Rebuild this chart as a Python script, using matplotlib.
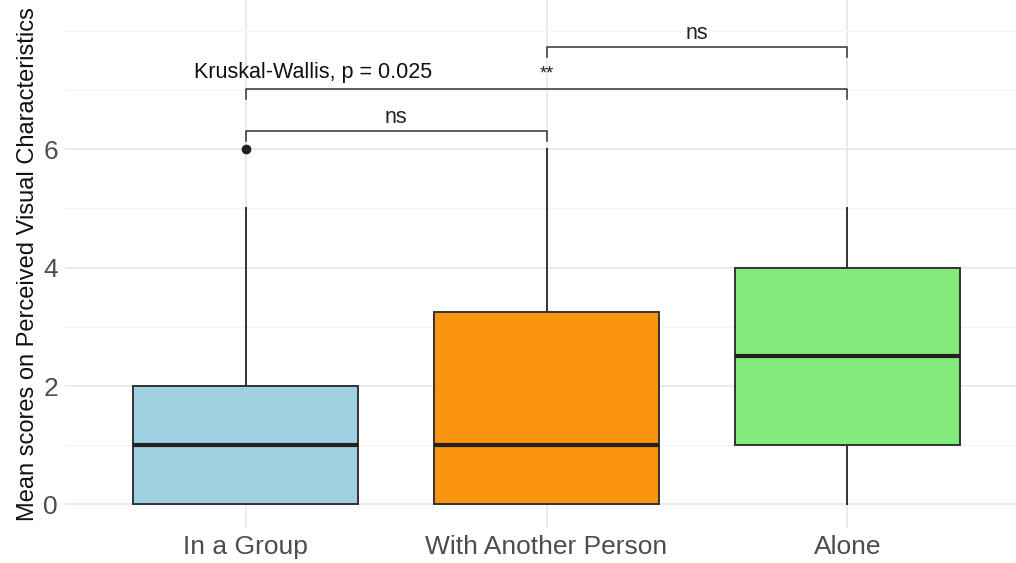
import numpy as np
import matplotlib.pyplot as plt

plt.rcParams['font.family'] = ['Liberation Sans', 'DejaVu Sans']

# box statistics
groups = ["In a Group", "With Another Person", "Alone"]
q1 = [0, 0, 1]
med = [1, 1, 2.5]
q3 = [2, 3.25, 4]
whislo = [0, 0, 0]
whishi = [5, 6, 5]
outliers = [[6], [], []]
colors = ["#9ED0E0", "#FB940E", "#82EB7C"]

# comparison brackets (x1, x2, height, label)
comparisons = [(1, 2, 6.30, "ns"), (1, 3, 7.01, "**"), (2, 3, 7.72, "ns")]
kw_text = "Kruskal-Wallis, p = 0.025"

fig = plt.figure(figsize=(10.16, 5.63), dpi=100)
ax = fig.add_axes([0.064, 0.062, 0.936, 0.938])

stats = []
for i in range(len(groups)):
    stats.append(dict(q1=q1[i], med=med[i], q3=q3[i], whislo=whislo[i],
                      whishi=whishi[i], fliers=outliers[i], label=groups[i]))

pos = np.arange(1, len(groups) + 1)
bp = ax.bxp(stats, positions=pos, widths=0.75, patch_artist=True,
            showcaps=False,
            boxprops=dict(edgecolor="#333333", linewidth=1.4),
            whiskerprops=dict(color="#333333", linewidth=1.4),
            medianprops=dict(color="#222222", linewidth=3),
            flierprops=dict(marker="o", markerfacecolor="#222222",
                            markeredgecolor="#222222", markersize=6))
for patch, c in zip(bp["boxes"], colors):
    patch.set_facecolor(c)
    patch.set_zorder(3)
for k in ["whiskers", "medians", "fliers"]:
    for a in bp[k]:
        a.set_zorder(4)

# brackets
tip = 0.17
for x1, x2, h, lab in comparisons:
    ax.plot([x1, x1, x2, x2], [h - tip, h, h, h - tip], color="#333333",
            linewidth=1.1, zorder=5)
    if lab == "**":
        ax.text((x1 + x2) / 2, h + 0.12, lab, ha="center", va="bottom",
                fontsize=13, color="#222222")
    else:
        ax.text((x1 + x2) / 2, h + 0.05, lab, ha="center", va="bottom",
                fontsize=15.5, color="#222222")
ax.text(0.83, 7.30, kw_text, ha="left", va="center", fontsize=15.5,
        color="#111111")

ax.set_xlim(0.4, 3.56)
ax.set_ylim(-0.4, 8.52)
ax.set_yticks([0, 2, 4, 6])
ax.set_yticks([1, 3, 5, 7, 8], minor=True)
ax.set_xticks(pos)
ax.set_xticklabels(groups)
ax.tick_params(axis="both", length=0, labelsize=19, colors="#4D4D4D")
ax.tick_params(axis="x", pad=5)
ax.tick_params(axis="y", pad=5)
ax.tick_params(axis="y", which="minor", length=0)
ax.grid(True, which="major", color="#E6E6E6", linewidth=1.2, zorder=0)
ax.grid(True, which="minor", axis="y", color="#F4F4F4", linewidth=0.8, zorder=0)
ax.set_axisbelow(True)
for s in ax.spines.values():
    s.set_visible(False)
ax.set_ylabel("Mean scores on Perceived Visual Characteristics", fontsize=17,
              color="#111111", labelpad=3)

fig.savefig("out.png", dpi=100)
